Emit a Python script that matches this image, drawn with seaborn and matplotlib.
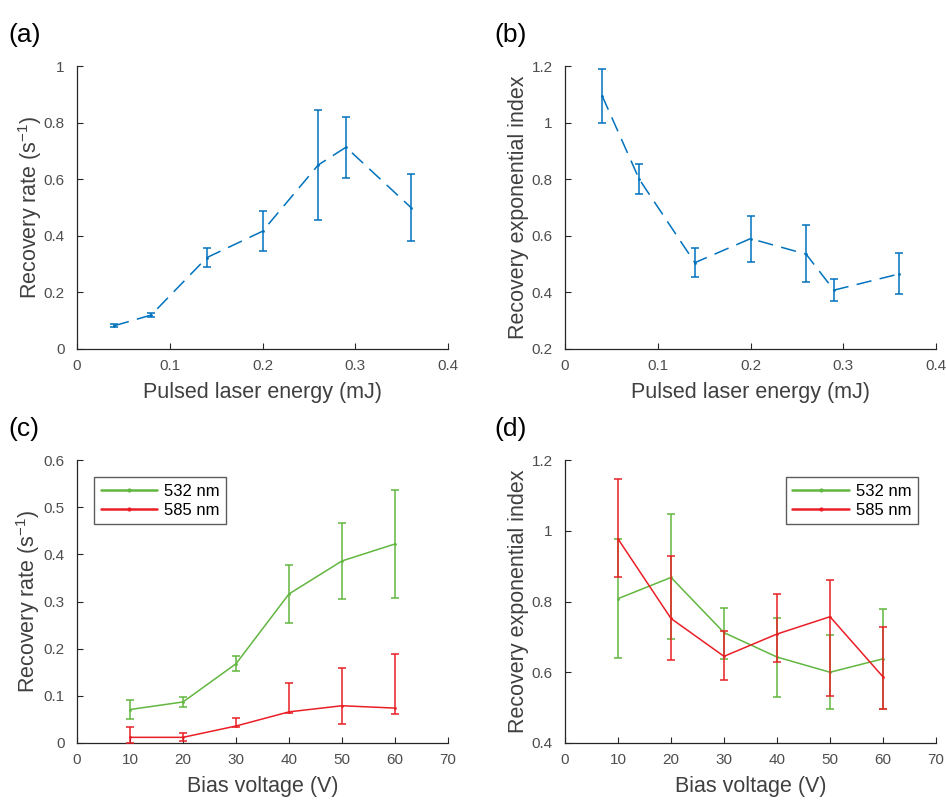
import numpy as np
import pandas as pd
import matplotlib
matplotlib.use("Agg")
import matplotlib.pyplot as plt
import seaborn as sns
from matplotlib.lines import Line2D

# ---------------- data ----------------
energy = [0.04, 0.08, 0.14, 0.20, 0.26, 0.29, 0.36]
rate_a = [0.082, 0.120, 0.323, 0.416, 0.650, 0.713, 0.500]
rate_a_lo = [0.076, 0.113, 0.288, 0.345, 0.456, 0.606, 0.383]
rate_a_hi = [0.088, 0.127, 0.357, 0.488, 0.844, 0.820, 0.617]

index_b = [1.095, 0.800, 0.505, 0.590, 0.535, 0.408, 0.465]
index_b_lo = [1.000, 0.748, 0.455, 0.508, 0.435, 0.370, 0.395]
index_b_hi = [1.190, 0.855, 0.558, 0.670, 0.638, 0.448, 0.540]

bias = [10, 20, 30, 40, 50, 60]
rate_532 = [0.071, 0.087, 0.168, 0.316, 0.386, 0.422]
rate_532_lo = [0.050, 0.077, 0.153, 0.255, 0.306, 0.308]
rate_532_hi = [0.091, 0.098, 0.185, 0.378, 0.466, 0.536]
rate_585 = [0.012, 0.012, 0.036, 0.066, 0.079, 0.074]
rate_585_lo = [0.000, 0.004, 0.033, 0.063, 0.040, 0.062]
rate_585_hi = [0.033, 0.022, 0.052, 0.127, 0.158, 0.188]

index_532 = [0.808, 0.868, 0.712, 0.643, 0.600, 0.638]
index_532_lo = [0.640, 0.694, 0.638, 0.530, 0.496, 0.496]
index_532_hi = [0.978, 1.046, 0.783, 0.753, 0.704, 0.780]
index_585 = [0.977, 0.752, 0.645, 0.708, 0.757, 0.587]
index_585_lo = [0.868, 0.636, 0.578, 0.628, 0.532, 0.496]
index_585_hi = [1.146, 0.930, 0.718, 0.820, 0.862, 0.727]

series_labels = ["532 nm", "585 nm"]
panel_labels = ["(a)", "(b)", "(c)", "(d)"]

BLUE = "#0072BD"
GREEN = "#62B740"
RED = "#EA1F26"
AXC = "#262626"
TICKC = "#4D4D4D"
LABC = "#404040"

sns.set_theme(style="white")
plt.rcParams["font.family"] = ["Liberation Sans", "DejaVu Sans"]
plt.rcParams["mathtext.fontset"] = "custom"
plt.rcParams["mathtext.rm"] = "Liberation Sans"
plt.rcParams["mathtext.it"] = "Liberation Sans"

fig = plt.figure(figsize=(9.46, 8.0), dpi=100)
W, H = 946, 800
def rect(l, r, b, t):
    return [l / W, 1 - b / H, (r - l) / W, (b - t) / H]

ax_a = fig.add_axes(rect(77, 448, 349, 66))
ax_b = fig.add_axes(rect(565, 936, 349, 66))
ax_c = fig.add_axes(rect(77, 448, 743, 460))
ax_d = fig.add_axes(rect(565, 936, 743, 460))

def style(ax, xlim, ylim, xticks, yticks, xlabel, ylabel, ylx):
    ax.set_xlim(*xlim)
    ax.set_ylim(*ylim)
    ax.set_xticks(xticks)
    ax.set_yticks(yticks)
    ax.set_xticklabels([f"{t:g}" for t in xticks])
    ax.set_yticklabels([f"{t:g}" for t in yticks])
    for s in ["top", "right"]:
        ax.spines[s].set_visible(False)
    for s in ["left", "bottom"]:
        ax.spines[s].set_color(AXC)
        ax.spines[s].set_linewidth(0.9)
    ax.tick_params(direction="in", length=4, width=0.8, colors=AXC,
                   labelsize=11, labelcolor=TICKC, left=True, bottom=True)
    ax.tick_params(axis="x", pad=7)
    ax.tick_params(axis="y", pad=9)
    ax.set_xlabel(xlabel, fontsize=15.5, color=LABC)
    ax.set_ylabel(ylabel, fontsize=15.5, color=LABC)
    ax.xaxis.set_label_coords(0.5, -0.118)
    ax.yaxis.set_label_coords(ylx, 0.5)
    ax.grid(False)
    ax.set_facecolor("white")

def draw(ax, x, y, lo, hi, color, ls, label=None, zorder=3):
    df = pd.DataFrame({"x": x, "y": y})
    sns.lineplot(data=df, x="x", y="y", ax=ax, color=color, linestyle=ls,
                 linewidth=1.1, marker=".", markersize=4, markeredgewidth=0,
                 label=label, legend=False, zorder=zorder)
    if ls == "--":
        ax.lines[-1].set_dashes((10, 5.5))
    yerr = [np.array(y) - np.array(lo), np.array(hi) - np.array(y)]
    ax.errorbar(x, y, yerr=yerr, fmt="none", ecolor=color, elinewidth=1.1,
                capsize=3, capthick=1.1, zorder=zorder)

draw(ax_a, energy, rate_a, rate_a_lo, rate_a_hi, BLUE, "--")
style(ax_a, (0, 0.4), (0, 1), [0, 0.1, 0.2, 0.3, 0.4], [0, 0.2, 0.4, 0.6, 0.8, 1],
      "Pulsed laser energy (mJ)", r"Recovery rate (s$^{-1}$)", -0.09)

draw(ax_b, energy, index_b, index_b_lo, index_b_hi, BLUE, "--")
style(ax_b, (0, 0.4), (0.2, 1.2), [0, 0.1, 0.2, 0.3, 0.4], [0.2, 0.4, 0.6, 0.8, 1, 1.2],
      "Pulsed laser energy (mJ)", "Recovery exponential index", -0.098)

draw(ax_c, bias, rate_532, rate_532_lo, rate_532_hi, GREEN, "-", series_labels[0])
draw(ax_c, bias, rate_585, rate_585_lo, rate_585_hi, RED, "-", series_labels[1])
style(ax_c, (0, 70), (0, 0.6), [0, 10, 20, 30, 40, 50, 60, 70],
      [0, 0.1, 0.2, 0.3, 0.4, 0.5, 0.6],
      "Bias voltage (V)", r"Recovery rate (s$^{-1}$)", -0.095)

draw(ax_d, bias, index_532, index_532_lo, index_532_hi, GREEN, "-", series_labels[0])
draw(ax_d, bias, index_585, index_585_lo, index_585_hi, RED, "-", series_labels[1])
style(ax_d, (0, 70), (0.4, 1.2), [0, 10, 20, 30, 40, 50, 60, 70],
      [0.4, 0.6, 0.8, 1, 1.2],
      "Bias voltage (V)", "Recovery exponential index", -0.098)

def legend(ax, loc, anchor):
    handles = [Line2D([], [], color=GREEN, lw=1.8, marker=".", markersize=4),
               Line2D([], [], color=RED, lw=1.8, marker=".", markersize=4)]
    lg = ax.legend(handles, series_labels, loc=loc, bbox_to_anchor=anchor,
                   frameon=True, fancybox=False, fontsize=12,
                   handlelength=3.4, handletextpad=0.4, borderpad=0.4,
                   labelspacing=0.25, borderaxespad=0)
    lg.get_frame().set_edgecolor("#333333")
    lg.get_frame().set_linewidth(1.0)
    for t in lg.get_texts():
        t.set_color("black")
    return lg

legend(ax_c, "upper left", (0.046, 0.94))
legend(ax_d, "upper right", (0.951, 0.94))

pos = [(8, 42), (494, 42), (8, 436), (494, 436)]
for lab, (px, py) in zip(panel_labels, pos):
    fig.text(px / W, 1 - py / H, lab, fontsize=19, color="black")

fig.savefig("out.png", dpi=100, facecolor="white")
